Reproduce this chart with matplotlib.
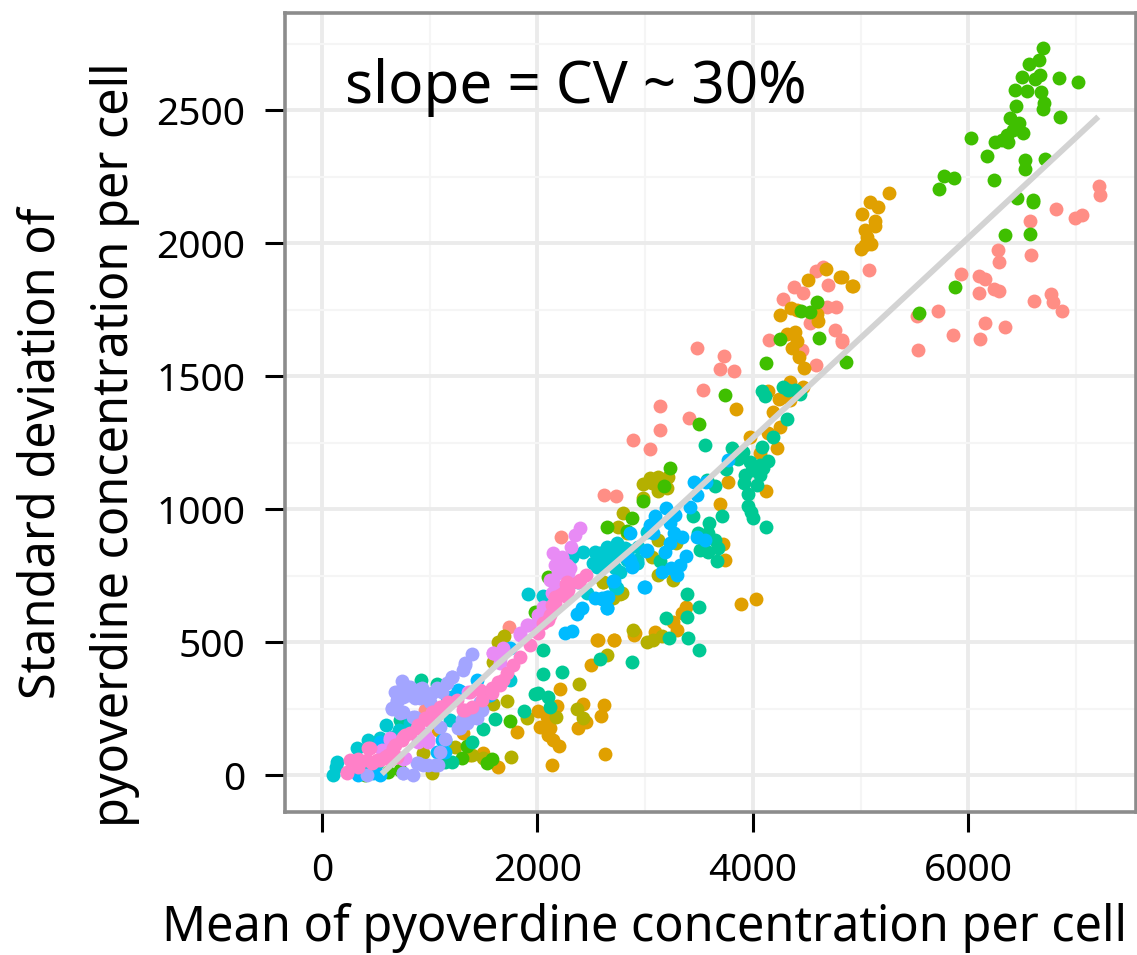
import matplotlib
matplotlib.use("Agg")
import matplotlib.pyplot as plt
from matplotlib.ticker import MultipleLocator

plt.rcParams['font.family'] = ['Noto Sans', 'DejaVu Sans']

salmon_x = [7215,7224,7060,6989,6816,6577,6587,6280,6286,5937,6101,6159,6240,6289,6101,6614,6769,6791,6874,5723,5528,6153,6345,5862,6110,5537,5079,3485,3735,3698,3828,3534,3135,3404,3141,2884,3045,2618,2730,4153,4760,4828,4453,4583,2216,1740,957,4655,4587,4701,4385,4469,4277,4686,4769,4531,4825,1000,1050]
salmon_y = [2214,2179,2105,2096,2129,2082,1956,1973,1927,1884,1876,1866,1829,1818,1812,1784,1807,1779,1745,1745,1725,1698,1686,1654,1641,1598,1897,1604,1574,1527,1519,1447,1386,1344,1296,1260,1225,1051,1048,1636,1673,1628,1598,1541,894,558,245,1911,1894,1842,1833,1814,1789,1758,1758,1700,1635,245,240]
orange_x = [5265,5089,5166,5011,5135,5135,5042,5064,5095,5002,5042,4825,4925,4683,4512,4813,4927,4249,4351,4407,4593,4602,4392,4314,3847,3769,4122,3698,3726,3742,3890,4029,3376,3339,3262,3293,3092,2900,2711,2566,3974,4144,4252,4221,4190,4067,4243,4144,4345,4469,4345,4407,4361,4429,4478,2551,2712,2906,2501,2210,2421,2619,2588,2003,2086,2024,2117,2102,2148,2204,2380,2448,2185,1808,2631,2133,1631,1498,1312,1374,1080]
orange_y = [2189,2153,2136,2111,2082,2065,2051,2023,1996,1977,1992,1872,1838,1904,1863,1872,1837,1731,1757,1748,1735,1708,1664,1658,1378,1103,1066,1018,868,808,643,661,631,608,577,546,537,527,506,508,1270,1285,1307,1229,1366,1210,1413,1445,1479,1460,1410,1630,1604,1573,1529,508,506,533,412,322,267,262,223,242,220,182,176,151,132,110,177,201,260,162,79,38,32,82,157,75,169]
olive_x = [3123,3045,2983,3215,3200,3123,3060,2977,2798,2751,2829,3123,3287,3061,3123,3262,2891,3014,3076,3154,2643,2767,2705,2612,2606,2783,1690,1638,1591,2390,1715,1585,1900,2170,2365,2427,1752,1492,1390,1235,935,1018]
olive_y = [1122,1116,1095,1122,1078,1066,1097,1041,984,934,909,884,871,821,752,734,546,502,508,521,452,681,665,727,727,683,524,501,426,341,280,267,213,220,247,213,69,63,75,107,82,6]
green_x = [6692,6658,6562,6497,6667,6620,6846,7017,6432,6549,6679,6707,6695,6441,6388,6853,6472,6512,6419,6357,6373,6249,6311,6029,6178,6528,6528,6713,6237,5868,5773,5732,6453,6599,6599,6342,6574,5878,5544,4249,4614,4119,4868,3742,3500,3228,3175,2977,2881,2649,2829,4599,4444,4531,1746,1576,1529,1297,1344,1978,2102,616,400,724]
green_y = [2734,2689,2674,2625,2631,2615,2622,2607,2577,2572,2569,2525,2503,2515,2471,2473,2450,2413,2424,2406,2379,2381,2389,2394,2327,2312,2280,2317,2239,2243,2253,2204,2168,2161,2155,2029,2035,1833,1737,1638,1642,1548,1552,1430,1319,1153,1087,1032,965,934,919,1780,1744,1739,202,59,47,65,109,614,746,13,0,19]
teal_x = [916,1065,1204,2055,2049,2232,2581,2875,1978,2009,2102,2117,1876,1607,1498,1390,1204,1142,724,4088,4113,4283,4330,4392,4438,4320,4187,4082,3559,3810,3912,3865,3974,4067,4144,4097,3989,3927,4067,4036,3918,3958,3751,3649,3571,3958,3980,3998,4122,3717,3441,3596,3494,3587,3649,3680,3510,3587,3664,3138,3392,3497,3386,3194,3222,3398,3497]
teal_y = [357,342,295,470,379,386,436,424,305,307,295,257,242,212,174,126,50,50,207,1442,1425,1460,1448,1448,1433,1340,1270,1232,1241,1229,1216,1187,1178,1166,1181,1153,1147,1128,1128,1091,1097,1057,1150,1088,1110,1012,990,965,932,972,972,949,909,909,884,853,846,840,806,806,680,633,596,590,517,514,470]
cyan_x = [2427,2535,2643,2736,2597,2705,2844,2937,2922,2767,1916,2055,2318,2736,2519,2628,2783,3015,591,715,539,430,328,143,130,106,647,740,1746,1545,1189,1204,384,322,508,2596,2658,2736,2643,2767,2720,2720,2921,817,2550,2658,2457,2581,2690,2813,2829,2705,2628,2921]
cyan_y = [840,840,852,871,808,815,846,859,808,765,681,674,821,702,796,840,846,915,187,169,138,132,100,50,32,0,144,144,357,301,207,295,32,57,44,809,834,859,859,834,777,709,796,194,783,796,683,833,833,852,808,808,808,796]
sky_x = [3454,3565,3479,3417,3773,3194,3277,3092,3045,3231,2860,3076,3268,3339,3231,3479,3556,3008,3184,3379,2860,2875,3324,3237,3293,3154,2996,2711,2643,2649,2596,3015,2844,2875,2705,2993,2659,2535,2597,2643,2411,2365,2318,2256,1436,1282,1158,1560,1746,1111,1065,539,477,539,337,1142,1142,1266,2380]
sky_y = [1101,1101,1053,1007,1185,1003,978,972,940,947,909,909,909,896,871,894,884,843,840,824,809,784,790,777,752,762,707,730,671,627,661,846,815,790,729,706,671,667,664,627,627,604,542,533,357,317,295,301,476,132,88,0,6,125,0,87,131,319,727]
lavender_x = [1390,1328,1312,1204,1158,1065,740,678,817,926,988,864,755,694,647,755,864,1483,1436,1343,1281,1142,1096,1080,988,895,848,749,415,1096,693,802,910,1018,802,693,647,724,848,1003,1111,1204,1266,1297,1390,1452,1467,1049,941,879,755,910,1328]
lavender_y = [455,420,395,370,345,326,354,313,332,326,288,288,295,282,251,238,219,245,213,194,176,134,88,38,38,44,0,6,0,182,313,332,325,307,300,275,250,232,219,275,313,369,175,206,213,244,275,37,37,44,6,288,413]
orchid_x = [2396,2349,2309,2142,2226,2303,2179,2117,2179,2055,2009,1900,1839,1684,1591,1653,632,988,895,771,554,631,987,755,956,1359,2225,2163,2272,2287,2194,2163,2132,2024,1916,1838,1993,1591,1653]
orchid_y = [927,902,859,834,815,777,783,733,702,633,602,564,533,476,460,420,138,126,126,63,94,131,137,62,156,313,821,789,789,758,758,714,683,601,564,526,570,457,438]
pink_x = [2451,2380,2272,2241,2164,2133,2117,2055,2009,1932,1777,1715,1638,1576,1467,1374,1312,1250,1142,1034,988,879,755,678,539,446,353,260,236,338,461,616,817,229,337,430,415,508,585,662,740,895,956,1018,1096,1173,1328,1390,1483,1575,1653,1684,693,632,771,2395,2265,2287,2210,2163,2101,1838,2272,2163]
pink_y = [752,727,727,683,664,639,602,570,533,489,414,382,351,326,320,313,245,282,263,238,207,176,144,113,57,100,50,57,9,32,44,75,157,12,62,100,56,56,69,100,131,188,213,238,257,275,244,257,282,307,338,357,69,56,150,733,718,695,676,645,582,445,670,670]
fit_x = [554,1622,3046,5181,7208]
fit_y = [4,414,909,1711,2475]

series = [
    (salmon_x, salmon_y, '#FF8E85'), (orange_x, orange_y, '#E0A000'),
    (olive_x, olive_y, '#B4B000'), (green_x, green_y, '#3FBF00'),
    (teal_x, teal_y, '#00C994'), (cyan_x, cyan_y, '#00C8D0'),
    (sky_x, sky_y, '#00BBFF'), (lavender_x, lavender_y, '#A3A5FF'),
    (orchid_x, orchid_y, '#E88BF5'), (pink_x, pink_y, '#FF80C8'),
]

W, H = 1137, 955
fig = plt.figure(figsize=(W/100, H/100), dpi=100)
ax = fig.add_axes([285/W, 1-812/H, (1136-285)/W, (812-13)/H])
ax.set_xlim(-344, 7558)
ax.set_ylim(-139, 2865)
ax.set_axisbelow(True)
ax.xaxis.set_major_locator(MultipleLocator(2000))
ax.xaxis.set_minor_locator(MultipleLocator(1000))
ax.yaxis.set_major_locator(MultipleLocator(500))
ax.yaxis.set_minor_locator(MultipleLocator(250))
ax.grid(True, which='major', color='#ebebeb', lw=2.8)
ax.grid(True, which='minor', color='#f5f5f5', lw=1.5)
ax.tick_params(which='minor', length=0)
ax.tick_params(which='major', length=14.5, width=2.2, color='black', pad=14, labelsize=28)
for sp in ax.spines.values():
    sp.set_color('#8c8c8c')
    sp.set_linewidth(2.6)

for x, y, c in series:
    ax.scatter(x, y, s=100, color=c, linewidths=0, zorder=3)
ax.plot(fit_x, fit_y, color='#d3d3d3', lw=4.2, solid_capstyle='butt', zorder=4)

fig.text(345/W, 1-103/H, 'slope = CV ~ 30%', fontsize=42, color='black', ha='left', va='baseline')
fig.text(645/W, 1-928/H, 'Mean of pyoverdine concentration per cell', fontsize=35, ha='center', va='center')
fig.text(42/W, 1-453/H, 'Standard deviation of', fontsize=35, rotation=90, ha='center', va='center')
fig.text(115/W, 1-445/H, 'pyoverdine concentration per cell', fontsize=35, rotation=90, ha='center', va='center')

fig.savefig('out.png', dpi=100)
